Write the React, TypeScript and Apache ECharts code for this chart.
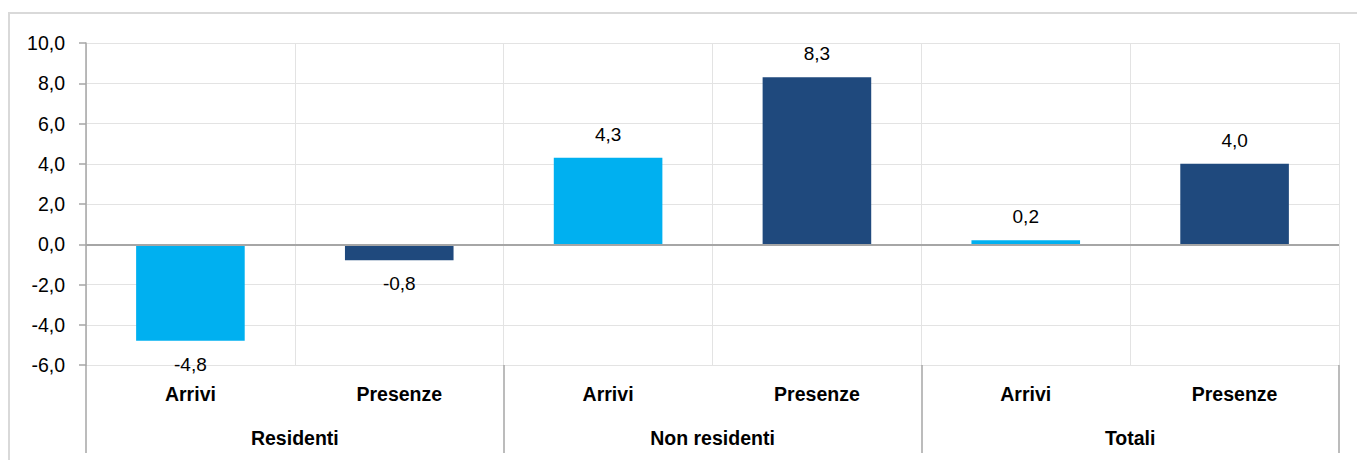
import React, { useEffect, useRef } from "react";
import * as echarts from "echarts";

const categories = ["Arrivi", "Presenze", "Arrivi", "Presenze", "Arrivi", "Presenze"];
const groups = ["Residenti", "Non residenti", "Totali"];
const values = [-4.8, -0.8, 4.3, 8.3, 0.2, 4.0];
const barColors = ["#00B0F0", "#1F497D", "#00B0F0", "#1F497D", "#00B0F0", "#1F497D"];
const yTicks = { min: -6, max: 10, interval: 2 };

const FONT = "Liberation Sans, Arial, sans-serif";
const fmt = (v: number) => v.toFixed(1).replace(".", ",");

export default function App() {
  const ref = useRef<HTMLDivElement>(null);
  useEffect(() => {
    if (!ref.current) return;
    const chart = echarts.init(ref.current, null, { renderer: "svg" });
    chart.setOption({
      animation: false,
      graphic: [
        {
          type: "rect",
          shape: { x: 9, y: 13, width: 1400, height: 500 },
          style: { fill: "none", stroke: "#d9d9d9", lineWidth: 2 },
          silent: true,
        },
      ],
      grid: { left: 86, right: 18, top: 43, bottom: 95, containLabel: false },
      xAxis: [
        {
          type: "category",
          data: categories,
          position: "bottom",
          axisLine: { show: false, onZero: false },
          axisTick: { show: false },
          splitLine: { show: true, interval: 0, lineStyle: { color: "#e3e3e3", width: 1 } },
          axisLabel: {
            interval: 0,
            margin: 19,
            color: "#000",
            fontFamily: FONT,
            fontSize: 19.5,
            fontWeight: "bold",
          },
        },
        {
          type: "category",
          data: groups,
          position: "bottom",
          axisLine: { show: false, onZero: false },
          axisTick: {
            show: true,
            interval: 0,
            length: 88,
            lineStyle: { color: "#a6a6a6", width: 1.5 },
          },
          splitLine: { show: false },
          axisLabel: {
            interval: 0,
            margin: 63,
            color: "#000",
            fontFamily: FONT,
            fontSize: 19.5,
            fontWeight: "bold",
          },
        },
      ],
      yAxis: {
        type: "value",
        min: yTicks.min,
        max: yTicks.max,
        interval: yTicks.interval,
        axisLine: { show: true, lineStyle: { color: "#a6a6a6", width: 1.5 } },
        axisTick: { show: true, length: 7, lineStyle: { color: "#a6a6a6", width: 1.5 } },
        splitLine: { show: true, lineStyle: { color: "#e3e3e3", width: 1 } },
        axisLabel: {
          margin: 21,
          color: "#000",
          fontFamily: FONT,
          fontSize: 19.5,
          formatter: (v: number) => fmt(v),
        },
      },
      series: [
        {
          type: "bar",
          xAxisIndex: 0,
          barWidth: "52%",
          data: values.map((v, i) => ({
            value: v,
            itemStyle: { color: barColors[i] },
            label: { position: v < 0 ? "bottom" : "top" },
          })),
          label: {
            show: true,
            distance: 14,
            color: "#000",
            fontFamily: FONT,
            fontSize: 19,
            formatter: (p: any) => fmt(p.value),
          },
          markLine: {
            silent: true,
            symbol: "none",
            label: { show: false },
            lineStyle: { color: "#a6a6a6", width: 2, type: "solid" },
            data: [{ yAxis: 0 }],
          },
        },
      ],
    });
    return () => chart.dispose();
  }, []);
  return (
    <div
      ref={ref}
      style={{ position: "fixed", left: 0, top: 0, width: 1357, height: 460, background: "#fff" }}
    />
  );
}
